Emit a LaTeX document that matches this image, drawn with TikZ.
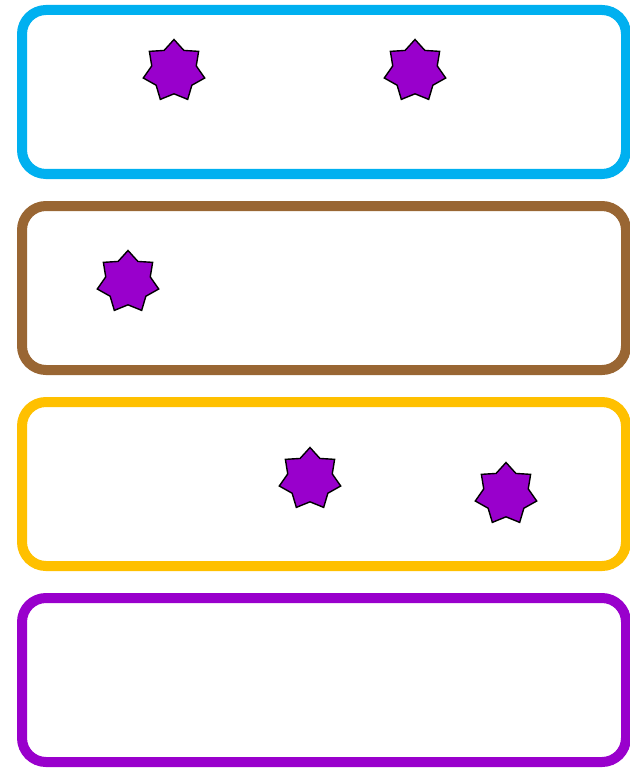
\documentclass[tikz,border=0pt]{standalone}
\usetikzlibrary{shapes.geometric}
\definecolor{cblue}{HTML}{00B0F0}
\definecolor{cbrown}{HTML}{996633}
\definecolor{cyellow}{HTML}{FFC000}
\definecolor{cpurple}{HTML}{9900CC}
\begin{document}
\begin{tikzpicture}[x=1pt,y=-1pt,
  lane/.style={line width=10pt, rounded corners=24pt},
  starnode/.style={star, star points=7, star point ratio=1.38, minimum size=63pt, inner sep=0pt, fill=cpurple, draw=black, line width=1.4pt}]
\useasboundingbox (0,0) rectangle (629,770);
\draw[lane, draw=cblue] (22,10) rectangle (626,174);
\draw[lane, draw=cbrown] (22,206) rectangle (626,370);
\draw[lane, draw=cyellow] (22,402) rectangle (626,566);
\draw[lane, draw=cpurple] (22,598) rectangle (626,762);
\node[starnode] (s1) at (174,71) {};
\node[starnode] (s2) at (415,71) {};
\node[starnode] (s3) at (128,282) {};
\node[starnode] (s4) at (310,479) {};
\node[starnode] (s5) at (506,494) {};
\end{tikzpicture}
\end{document}
